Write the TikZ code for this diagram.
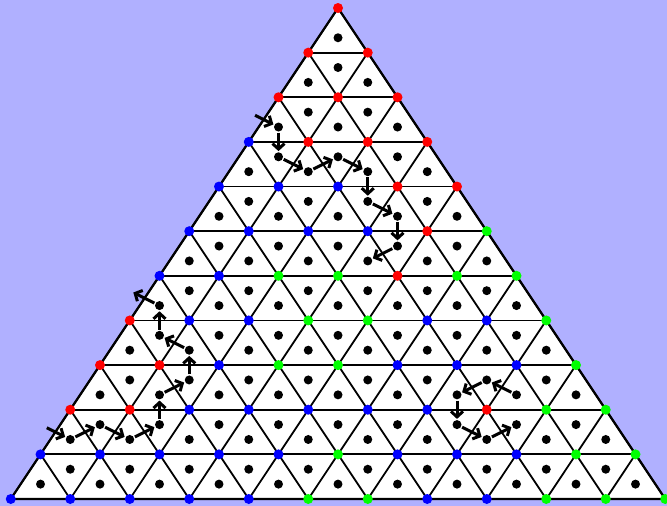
\documentclass[tikz,border=0pt]{standalone}
\usetikzlibrary{arrows.meta}
\definecolor{bgc}{RGB}{176,176,255}
\colorlet{cR}{red}
\colorlet{cB}{blue}
\colorlet{cG}{green}
\tikzset{
  gridline/.style={line width=1.8pt, black},
  outline/.style={line width=2.2pt, black, line join=round},
  vdot/.style={circle, inner sep=0pt, minimum size=10pt, draw=none},
  cdot/.style={circle, inner sep=0pt, minimum size=9pt, fill=black},
  arr/.style={line width=3pt, black, -{Straight Barb[length=5.5pt,width=12pt]}, shorten >=1pt, shorten <=1pt},
}
\begin{document}
\begin{tikzpicture}[x=1pt,y=-1pt]
\fill[bgc] (0,0) rectangle (667,506);
\useasboundingbox (0,0) rectangle (667,506);
% vertex coordinates
\foreach \r in {0,...,11}{
  \foreach \k in {0,...,\r}{
    \coordinate (v-\r-\k) at ({338+(\k-\r/2)*59.5},{8+\r*44.636});
  }
}
\fill[white] (v-0-0) -- (v-11-0) -- (v-11-11) -- cycle;
% grid
\foreach \r in {1,...,11}{\draw[gridline] (v-\r-0) -- (v-\r-\r);}
\foreach \k in {0,...,10}{\draw[gridline] (v-\k-\k) -- (v-11-\k);}
\foreach \m in {0,...,10}{
  \pgfmathtruncatemacro\e{11-\m}
  \draw[gridline] (v-\m-0) -- (v-11-\e);
}
\draw[outline] (v-0-0) -- (v-11-0) -- (v-11-11) -- cycle;
% coloured vertices
\foreach \c [count=\i from 0] in {R}{\node[vdot,fill=c\c] (p-0-\i) at (v-0-\i) {};}
\foreach \c [count=\i from 0] in {R,R}{\node[vdot,fill=c\c] (p-1-\i) at (v-1-\i) {};}
\foreach \c [count=\i from 0] in {R,R,R}{\node[vdot,fill=c\c] (p-2-\i) at (v-2-\i) {};}
\foreach \c [count=\i from 0] in {B,R,R,R}{\node[vdot,fill=c\c] (p-3-\i) at (v-3-\i) {};}
\foreach \c [count=\i from 0] in {B,B,B,R,R}{\node[vdot,fill=c\c] (p-4-\i) at (v-4-\i) {};}
\foreach \c [count=\i from 0] in {B,B,B,B,R,G}{\node[vdot,fill=c\c] (p-5-\i) at (v-5-\i) {};}
\foreach \c [count=\i from 0] in {B,B,G,G,R,G,G}{\node[vdot,fill=c\c] (p-6-\i) at (v-6-\i) {};}
\foreach \c [count=\i from 0] in {R,B,B,G,G,B,B,G}{\node[vdot,fill=c\c] (p-7-\i) at (v-7-\i) {};}
\foreach \c [count=\i from 0] in {R,R,B,G,G,B,B,B,G}{\node[vdot,fill=c\c] (p-8-\i) at (v-8-\i) {};}
\foreach \c [count=\i from 0] in {R,R,B,B,B,B,B,R,G,G}{\node[vdot,fill=c\c] (p-9-\i) at (v-9-\i) {};}
\foreach \c [count=\i from 0] in {B,B,B,B,B,G,B,B,B,G,G}{\node[vdot,fill=c\c] (p-10-\i) at (v-10-\i) {};}
\foreach \c [count=\i from 0] in {B,B,B,B,B,G,G,B,B,G,G,G}{\node[vdot,fill=c\c] (p-11-\i) at (v-11-\i) {};}
% centroid dots
\foreach \r in {0,...,10}{
  \foreach \k in {0,...,\r}{
    \node[cdot] (u-\r-\k) at ({338+(\k-\r/2)*59.5},{8+(\r+2/3)*44.636}) {};
  }
}
\foreach \r in {1,...,10}{
  \pgfmathtruncatemacro\kmax{\r-1}
  \foreach \k in {0,...,\kmax}{
    \node[cdot] (d-\r-\k) at ({338+(\k-\r/2+0.5)*59.5},{8+(\r+1/3)*44.636}) {};
  }
}
% outside coordinates
\coordinate (s1) at ({338+(-1-1+0.5)*59.5},{8+(2+1/3)*44.636});
\coordinate (s2) at ({338+(-1-4.5+0.5)*59.5},{8+(9+1/3)*44.636});
\coordinate (e2) at ({338+(-1-3+0.5)*59.5},{8+(6+1/3)*44.636});
% path 1
\draw[arr, shorten <=7pt] (s1) -- (u-2-0);
\draw[arr] (u-2-0) -- (d-3-0);
\draw[arr] (d-3-0) -- (u-3-1);
\draw[arr] (u-3-1) -- (d-3-1);
\draw[arr] (d-3-1) -- (u-3-2);
\draw[arr] (u-3-2) -- (d-4-2);
\draw[arr] (d-4-2) -- (u-4-3);
\draw[arr] (u-4-3) -- (d-5-3);
\draw[arr] (d-5-3) -- (u-5-3);
% path 2
\draw[arr, shorten <=7pt] (s2) -- (u-9-0);
\draw[arr] (u-9-0) -- (d-9-0);
\draw[arr] (d-9-0) -- (u-9-1);
\draw[arr] (u-9-1) -- (d-9-1);
\draw[arr] (d-9-1) -- (u-8-1);
\draw[arr] (u-8-1) -- (d-8-1);
\draw[arr] (d-8-1) -- (u-7-1);
\draw[arr] (u-7-1) -- (d-7-0);
\draw[arr] (d-7-0) -- (u-6-0);
\draw[arr, shorten >=4pt] (u-6-0) -- (e2);
% path 3
\draw[arr] (u-8-7) -- (d-8-6);
\draw[arr] (d-8-6) -- (u-8-6);
\draw[arr] (u-8-6) -- (d-9-6);
\draw[arr] (d-9-6) -- (u-9-7);
\draw[arr] (u-9-7) -- (d-9-7);
\end{tikzpicture}
\end{document}
